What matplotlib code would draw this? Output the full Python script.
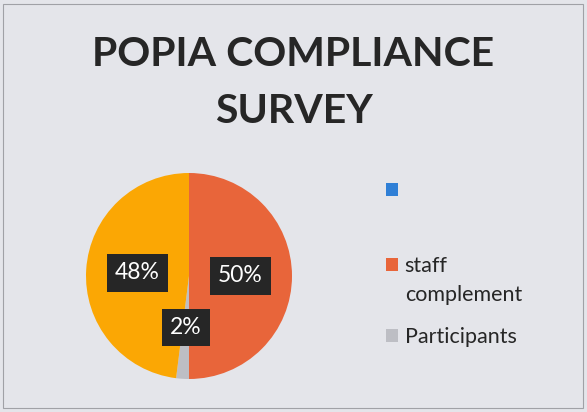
import matplotlib
matplotlib.use("Agg")
import matplotlib.pyplot as plt
from matplotlib.patches import Rectangle

# ── Data ──────────────────────────────────────────────────────────────────────
categories = ["", "staff complement", "Participants", ""]
legend_labels = [" \n ", "staff\ncomplement", "Participants"]
values = [0, 50, 2, 48]
colors = ["#2f7fd6", "#e8653a", "#bdbec4", "#fba704"]
title = "POPIA COMPLIANCE\nSURVEY"

BG = "#e4e5ea"
INK = "#262626"
FONT = "Lato"
W, H, DPI = 587, 412, 100

fig = plt.figure(figsize=(W / DPI, H / DPI), dpi=DPI, facecolor=BG)

# thin chart-area border
fig.patches.append(Rectangle((3 / W, 4 / H), 1 - 7 / W, 1 - 8 / H,
                             transform=fig.transFigure, fill=False,
                             edgecolor="#a0a1a6", linewidth=0.8))

# pie axes: centre (189, 276) px, radius 103 px
cx, cy, r = 189, 276, 103
ax = fig.add_axes([(cx - r) / W, (H - cy - r) / H, 2 * r / W, 2 * r / H])
ax.set_facecolor(BG)


def pct(p):
    return f"{p:.0f}%" if p > 0.5 else ""


wedges, texts, autotexts = ax.pie(
    values, colors=colors, startangle=90, counterclock=False,
    autopct=pct, pctdistance=0.5, radius=1.0,
    textprops=dict(color="white", fontsize=16.5, family=FONT),
)
for t in autotexts:
    t.set_bbox(dict(boxstyle="square,pad=0.36", facecolor=INK, edgecolor="none"))
ax.set_xlim(-1, 1)
ax.set_ylim(-1, 1)
ax.set_aspect("equal")

fig.text(0.5, 1 - 36 / H, title, ha="center", va="top", fontsize=29.5,
         fontweight="bold", family=FONT, color=INK, linespacing=1.68)

leg = fig.legend(wedges[:3], legend_labels, loc="upper left",
                 bbox_to_anchor=(367 / W, 1 - 162 / H), frameon=False,
                 handlelength=0.55, handleheight=0.55, handletextpad=0.3,
                 labelspacing=1.05, prop=dict(family=FONT, size=15.5),
                 labelcolor=INK)
txts = leg.get_texts()
for t in txts:
    t.set_linespacing(1.55)
txts[0].set_linespacing(1.75)

# put the square next to the first line of two-line labels
# (reference offset taken from the one-line "Participants" row)
rend = fig.canvas.get_renderer()
for _ in range(3):
    fig.canvas.draw()
    hb = [h.get_window_extent(rend) for h in leg.legend_handles]
    tb = [t.get_window_extent(rend) for t in txts]
    d = (hb[2].y0 + hb[2].y1) / 2 - tb[2].y1
    for i, lab in enumerate(legend_labels):
        if "\n" in lab:
            delta = tb[i].y1 + d - (hb[i].y0 + hb[i].y1) / 2
            h = leg.legend_handles[i]
            h.set_y(h.get_y() + delta * 72 / DPI)

fig.savefig("out.png", dpi=DPI, facecolor=BG)
